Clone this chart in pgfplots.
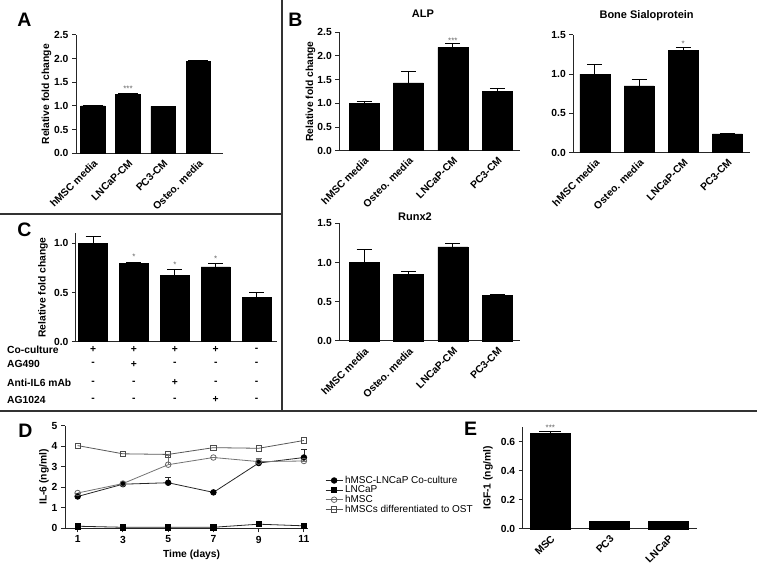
\documentclass[border=0pt]{standalone}
\usepackage{fontspec}
\setmainfont{Liberation Sans}
\usepackage{pgfplots}
\pgfplotsset{compat=1.18}
\newcommand{\tf}{\bfseries\fontsize{10.3}{11}\selectfont}
\newcommand{\stf}{\fontsize{8}{8}\selectfont}
\pgfplotsset{
  gp/.style={
    scale only axis,
    anchor=south west,
    axis lines*=left,
    axis line style={-, line width=1pt, black!85},
    tick align=outside,
    major tick length=4pt,
    tick style={line width=1pt, black!85},
    ymin=0,
    clip=false,
    /pgf/number format/assume math mode=true,
    tick label style={font=\tf},
    label style={font=\tf},
    title style={font=\bfseries\fontsize{11}{12}\selectfont},
  },
  gpbar/.style={
    gp, ybar, bar shift=0pt,
    xticklabel style={rotate=45, anchor=north east, inner sep=1pt},
    x tick style={draw=none},
    yticklabel style={/pgf/number format/.cd, fixed, fixed zerofill, precision=1},
  },
  bars/.style={fill=black, draw=black, line width=0.6pt,
    error bars/.cd, y dir=plus, y explicit,
    error bar style={line width=1pt, black},
    error mark options={rotate=90, line width=1pt, black, mark size=#1}},
  bars/.default=7.5pt,
}
\begin{document}
\begin{tikzpicture}[x=1pt,y=1pt]
\path[use as bounding box] (0,0) rectangle (761,569);
% dividers
\draw[line width=2pt, black!80] (281.7,569) -- (281.7,158);
\draw[line width=2pt, black!80] (0,354.7) -- (281.7,354.7);
\draw[line width=2pt, black!80] (0,158) -- (757,158);
% panel letters
\tikzset{plet/.style={font=\bfseries\fontsize{19.5}{20}\selectfont, inner sep=0pt}}
\node[plet] at (24.5,549) {A};
\node[plet] at (295.5,549.5) {B};
\node[plet] at (24.5,339) {C};
\node[plet] at (25.5,138.5) {D};
\node[plet] at (470.5,140.5) {E};

% ---------- A ----------
\begin{axis}[gpbar, at={(76pt,415.7pt)}, width=147pt, height=118.3pt,
  xmin=-0.48, xmax=3.7, ymax=2.5, ytick={0,0.5,...,2.5}, bar width=24.5pt,
  xtick={0,1,2,3}, xticklabels={hMSC media,LNCaP-CM,PC3-CM,Osteo. media},
  ylabel={Relative fold change},
  ylabel style={at={(axis description cs:-0.2,0.5)}, anchor=center}]
\addplot[bars=10pt] coordinates {(0,1.0) +- (0,0) (1,1.25) +- (0,0.02) (2,0.99) +- (0,0) (3,1.95) +- (0,0.02)};
\node[font=\stf, text=black!60] at (axis cs:1,1.36) {***};
\end{axis}

% ---------- B ALP ----------
\begin{axis}[gpbar, at={(339.3pt,418.3pt)}, width=180.7pt, height=118.4pt,
  xmin=-0.556, xmax=3.51, ymax=2.5, ytick={0,0.5,...,2.5}, bar width=30pt,
  xtick={0,1,2,3}, xticklabels={hMSC media,Osteo. media,LNCaP-CM,PC3-CM},
  title={ALP}, title style={at={(axis description cs:0.463,1)}, anchor=center, yshift=13pt},
  ylabel={Relative fold change},
  ylabel style={at={(axis description cs:-0.16,0.5)}, anchor=center}]
\addplot[bars] coordinates {(0,1.0) +- (0,0.04) (1,1.43) +- (0,0.24) (2,2.18) +- (0,0.08) (3,1.25) +- (0,0.07)};
\node[font=\stf, text=black!60] at (axis cs:2,2.33) {***};
\end{axis}

% ---------- B BSP ----------
\begin{axis}[gpbar, at={(573.3pt,416.3pt)}, width=176.7pt, height=118pt,
  xmin=-0.49, xmax=3.51, ymax=1.5, ytick={0,0.5,...,1.5}, bar width=30pt,
  xtick={0,1,2,3}, xticklabels={hMSC media,Osteo. media,LNCaP-CM,PC3-CM},
  title={Bone Sialoprotein}, title style={at={(axis description cs:0.415,1)}, anchor=center, yshift=13pt}]
\addplot[bars] coordinates {(0,1.0) +- (0,0.12) (1,0.85) +- (0,0.08) (2,1.3) +- (0,0.04) (3,0.24) +- (0,0.01)};
\node[font=\stf, text=black!60] at (axis cs:2,1.38) {*};
\end{axis}

% ---------- B Runx2 ----------
\begin{axis}[gpbar, at={(339.3pt,228pt)}, width=180.7pt, height=117.7pt,
  xmin=-0.556, xmax=3.51, ymax=1.5, ytick={0,0.5,...,1.5}, bar width=30pt,
  xtick={0,1,2,3}, xticklabels={hMSC media,Osteo. media,LNCaP-CM,PC3-CM},
  title={Runx2}, title style={at={(axis description cs:0.419,1)}, anchor=center, yshift=1pt}]
\addplot[bars] coordinates {(0,1.0) +- (0,0.17) (1,0.85) +- (0,0.04) (2,1.2) +- (0,0.04) (3,0.58) +- (0,0.01)};
\end{axis}

% ---------- C ----------
\begin{axis}[gpbar, at={(76pt,227.3pt)}, width=200.7pt, height=108.2pt,
  xmin=-0.416, xmax=4.49, ymax=1.1, ytick={0,0.5,1.0}, bar width=29pt,
  xtick={0,1,2,3,4}, xticklabels={},
  ylabel={Relative fold change},
  ylabel style={at={(axis description cs:-0.164,0.5)}, anchor=center}]
\addplot[bars] coordinates {(0,1.0) +- (0,0.07) (1,0.80) +- (0,0.01) (2,0.67) +- (0,0.06) (3,0.76) +- (0,0.03) (4,0.45) +- (0,0.05)};
\node[font=\stf, text=black!60] at (axis cs:1,0.86) {*};
\node[font=\stf, text=black!60] at (axis cs:2,0.785) {*};
\node[font=\stf, text=black!60] at (axis cs:3,0.84) {*};
\tikzset{sg/.style={font=\tf, inner sep=0pt}}
\node[sg] at (axis cs:0,-0.084) {+};
\node[sg] at (axis cs:1,-0.084) {+};
\node[sg] at (axis cs:2,-0.084) {+};
\node[sg] at (axis cs:3,-0.084) {+};
\node[sg] at (axis cs:4,-0.084) {-};
\node[sg] at (axis cs:0,-0.227) {-};
\node[sg] at (axis cs:1,-0.227) {+};
\node[sg] at (axis cs:2,-0.227) {-};
\node[sg] at (axis cs:3,-0.227) {-};
\node[sg] at (axis cs:4,-0.227) {-};
\node[sg] at (axis cs:0,-0.417) {-};
\node[sg] at (axis cs:1,-0.417) {-};
\node[sg] at (axis cs:2,-0.417) {+};
\node[sg] at (axis cs:3,-0.417) {-};
\node[sg] at (axis cs:4,-0.417) {-};
\node[sg] at (axis cs:0,-0.592) {-};
\node[sg] at (axis cs:1,-0.592) {-};
\node[sg] at (axis cs:2,-0.592) {-};
\node[sg] at (axis cs:3,-0.592) {+};
\node[sg] at (axis cs:4,-0.592) {-};
\end{axis}
\node[font=\tf, anchor=west, inner sep=0pt] at (7,219) {Co-culture};
\node[font=\tf, anchor=west, inner sep=0pt] at (7,205) {AG490};
\node[font=\tf, anchor=west, inner sep=0pt] at (7,186.3) {Anti-IL6 mAb};
\node[font=\tf, anchor=west, inner sep=0pt] at (7,169) {AG1024};

% ---------- D ----------
\begin{axis}[gp, at={(65pt,40.7pt)}, width=243pt, height=102.6pt,
  xmin=0.44, xmax=11.18, ymax=5, ytick={0,1,...,5}, xtick={1,3,5,7,9,11},
  xlabel={Time (days)}, ylabel={IL-6 (ng/ml)},
  xlabel style={at={(axis description cs:0.521,-0.26)}, anchor=center},
  ylabel style={at={(axis description cs:-0.086,0.5)}, anchor=center},
  legend style={at={(axis description cs:1.07,0.53)}, anchor=north west, draw=none, fill=none,
    font=\fontsize{10}{10}\selectfont, row sep=-3pt, inner sep=0pt},
  legend cell align=left]
\addplot[black!85, line width=0.8pt, mark=*, mark size=2.8pt, mark options={solid, fill=black, draw=black},
  error bars/.cd, y dir=plus, y explicit, error bar style={line width=0.8pt}, error mark options={rotate=90, line width=0.8pt, mark size=3pt}]
  coordinates {(1,1.55) +- (0,0) (3,2.15) +- (0,0) (5,2.22) +- (0,0.25) (7,1.75) +- (0,0) (9,3.18) +- (0,0) (11,3.45) +- (0,0.4)};
\addlegendentry{hMSC-LNCaP Co-culture}
\addplot[black!85, line width=0.8pt, mark=square*, mark size=2.7pt, mark options={solid, fill=black, draw=black}]
  coordinates {(1,0.1) (3,0.05) (5,0.05) (7,0.05) (9,0.2) (11,0.12)};
\addlegendentry{LNCaP}
\addplot[black!55, line width=0.8pt, mark=o, mark size=2.8pt, mark options={solid, fill=white, draw=black!60},
  error bars/.cd, y dir=plus, y explicit, error bar style={line width=0.8pt}, error mark options={rotate=90, line width=0.8pt, mark size=3pt}]
  coordinates {(1,1.72) +- (0,0) (3,2.18) +- (0,0) (5,3.1) +- (0,0.45) (7,3.45) +- (0,0) (9,3.25) +- (0,0.15) (11,3.28) +- (0,0)};
\addlegendentry{hMSC}
\addplot[black!65, line width=0.8pt, mark=square, mark size=2.7pt, mark options={solid, fill=white, draw=black!70}]
  coordinates {(1,4.03) (3,3.63) (5,3.6) (7,3.93) (9,3.9) (11,4.28)};
\addlegendentry{hMSCs differentiated to OST}
\end{axis}

% ---------- E ----------
\begin{axis}[gpbar, at={(522.7pt,40pt)}, width=174pt, height=101.8pt,
  xmin=-0.468, xmax=2.48, ymax=0.7, ytick={0,0.2,0.4,0.6}, bar width=40pt,
  xtick={0,1,2}, xticklabels={MSC,PC3,LNCaP},
  ylabel={IGF-1 (ng/ml)},
  ylabel style={at={(axis description cs:-0.2,0.5)}, anchor=center}]
\addplot[bars=11pt] coordinates {(0,0.655) +- (0,0.015) (1,0.05) +- (0,0) (2,0.05) +- (0,0)};
\node[font=\stf, text=black!60] at (axis cs:0,0.695) {***};
\end{axis}
\end{tikzpicture}
\end{document}
